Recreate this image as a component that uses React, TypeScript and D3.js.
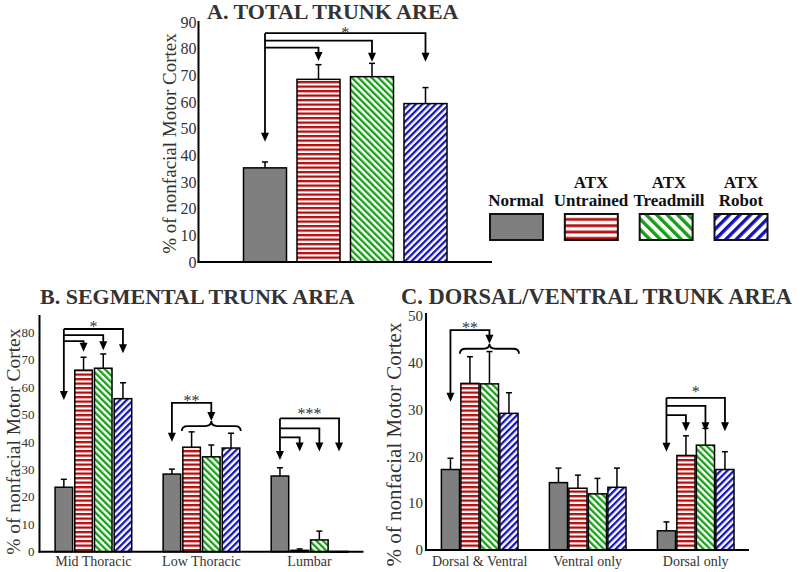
import React from "react";
import * as d3 from "d3";

// ---------- data ----------
const SERIES = ["Normal", "ATX Untrained", "ATX Treadmill", "ATX Robot"];
const LEGEND_LINE1 = ["", "ATX", "ATX", "ATX"];
const LEGEND_LINE2 = ["Normal", "Untrained", "Treadmill", "Robot"];

// A. Total trunk area
const TOTAL_MEAN = [35.3, 68.5, 69.5, 59.4];
const TOTAL_SEM = [2.2, 5.5, 5.0, 6.0];
const A_TICKS = [0, 10, 20, 30, 40, 50, 60, 70, 80, 90];

// B. Segmental trunk area
const SEG_CATS = ["Mid Thoracic", "Low Thoracic", "Lumbar"];
const SEG_NORMAL = [23.5, 28.3, 27.6];
const SEG_UNTRAINED = [66.2, 38.1, 0.5];
const SEG_TREADMILL = [66.9, 34.6, 4.3];
const SEG_ROBOT = [55.8, 37.8, 0.1];
const SEG_NORMAL_SEM = [2.9, 1.8, 3.0];
const SEG_UNTRAINED_SEM = [4.7, 5.6, 0.5];
const SEG_TREADMILL_SEM = [5.2, 4.3, 3.2];
const SEG_ROBOT_SEM = [5.8, 5.4, 0];
const B_TICKS = [0, 10, 20, 30, 40, 50, 60, 70, 80];

// C. Dorsal/ventral trunk area
const DV_CATS = ["Dorsal & Ventral", "Ventral only", "Dorsal only"];
const DV_NORMAL = [17.2, 14.4, 4.1];
const DV_UNTRAINED = [35.6, 13.2, 20.2];
const DV_TREADMILL = [35.5, 12.0, 22.4];
const DV_ROBOT = [29.2, 13.4, 17.2];
const DV_NORMAL_SEM = [2.4, 3.1, 1.9];
const DV_UNTRAINED_SEM = [5.7, 2.8, 4.2];
const DV_TREADMILL_SEM = [6.9, 3.3, 3.6];
const DV_ROBOT_SEM = [4.4, 4.1, 3.8];
const C_TICKS = [0, 10, 20, 30, 40, 50];

// significance annotations (value units)
const A_SIG = { stars: "*", starY: 87.7, fromTip: 45.1, levels: [80.4, 83.0, 85.8], tips: [75.4, 75.1, 75.1] };
const B_SIG_MID = { group: 0, stars: "*", starY: 83.4, fromTip: 55.3, levels: [76.8, 79.0, 81.2], tips: [72.9, 73.5, 72.4] };
const B_SIG_LOW = { group: 1, stars: "**", starY: 56.5, fromTip: 40.1, level: 54.3, braceY: 45.8 };
const B_SIG_LUMBAR = { group: 2, stars: "***", starY: 51.7, fromTip: 33.4, levels: [41.7, 45.0, 48.6], tips: [36.5, 36.5, 36.5] };
const C_SIG_DV = { group: 0, stars: "**", starY: 48.4, fromTip: 31.7, level: 47.0, braceY: 43.0 };
const C_SIG_DORSAL = { group: 2, stars: "*", starY: 34.8, fromTip: 21.0, levels: [28.8, 30.8, 32.5], tips: [25.4, 25.4, 25.4] };

// ---------- styles ----------
const FONT = "'Liberation Serif', 'Times New Roman', serif";
const TXT = "#333";
const FILLS = ["#7f7f7f", "url(#hRed)", "url(#dGreen)", "url(#dBlue)"];
const LEGEND_FILLS = ["#7f7f7f", "url(#hRedL)", "url(#dGreenL)", "url(#dBlueL)"];
const RED = "#b50d0d";
const GREEN = "#13a013";
const BLUE = "#1414b4";
const LW = 1.8;
const STAR_SIZE = 16;
const STAR_DY = 9.5;

function Arrow({ x, tip }: { x: number; tip: number }) {
  return <path d={`M${x - 4},${tip - 9}L${x + 4},${tip - 9}L${x},${tip}Z`} fill="#000" />;
}

function Bar({ x, w, y0, y1, ye, fill }: any) {
  const top = Math.min(y0, y1);
  const h = Math.abs(y0 - y1);
  const cx = x + w / 2;
  return (
    <g>
      {ye < y1 - 0.5 && (
        <g stroke="#000" strokeWidth={1.5}>
          <line x1={cx} x2={cx} y1={y1} y2={ye} />
          <line x1={cx - 3} x2={cx + 3} y1={ye} y2={ye} />
        </g>
      )}
      <rect x={x} y={top} width={w} height={Math.max(h, 0.8)} fill={fill} stroke="#000" strokeWidth={1.5} />
    </g>
  );
}

function Fan({ xFrom, xTos, y, sig }: any) {
  const topLevel = y(d3.max(sig.levels) as number);
  const mid = (xFrom + xTos[xTos.length - 1]) / 2;
  return (
    <g>
      <g stroke="#000" strokeWidth={LW} fill="none">
        <line x1={xFrom} x2={xFrom} y1={topLevel} y2={y(sig.fromTip) - 8} />
        {xTos.map((xt: number, i: number) => (
          <polyline key={i} points={`${xFrom},${y(sig.levels[i])} ${xt},${y(sig.levels[i])} ${xt},${y(sig.tips[i]) - 8}`} />
        ))}
      </g>
      <Arrow x={xFrom} tip={y(sig.fromTip)} />
      {xTos.map((xt: number, i: number) => (
        <Arrow key={i} x={xt} tip={y(sig.tips[i])} />
      ))}
      <text x={mid} y={y(sig.starY) + STAR_DY} textAnchor="middle" fontFamily={FONT} fontSize={STAR_SIZE} fill={TXT}>
        {sig.stars}
      </text>
    </g>
  );
}

function BraceSig({ xFrom, x1, x2, y, sig }: any) {
  const xm = (x1 + x2) / 2;
  const by = y(sig.braceY);
  const ly = y(sig.level);
  const brace = `M${x1},${by + 5} Q${x1},${by} ${x1 + 6},${by} L${xm - 6},${by} Q${xm},${by} ${xm},${by - 5} Q${xm},${by} ${xm + 6},${by} L${x2 - 6},${by} Q${x2},${by} ${x2},${by + 5}`;
  return (
    <g>
      <g stroke="#000" strokeWidth={LW} fill="none">
        <polyline points={`${xFrom},${y(sig.fromTip) - 8} ${xFrom},${ly} ${xm},${ly} ${xm},${by - 13}`} />
        <path d={brace} />
      </g>
      <Arrow x={xFrom} tip={y(sig.fromTip)} />
      <Arrow x={xm} tip={by - 5} />
      <text x={(xFrom + xm) / 2} y={y(sig.starY) + STAR_DY} textAnchor="middle" fontFamily={FONT} fontSize={STAR_SIZE} fill={TXT}>
        {sig.stars}
      </text>
    </g>
  );
}

function YAxis({ x, y, ticks, top, size, pad }: any) {
  return (
    <g>
      <line x1={x} x2={x} y1={top} y2={y(0) + 1} stroke="#000" strokeWidth={2} />
      {ticks.map((t: number) => (
        <text key={t} x={x - pad} y={y(t)} dy="0.35em" textAnchor="end" fontFamily={FONT} fontSize={size} fill={TXT}>
          {t}
        </text>
      ))}
    </g>
  );
}

function YLabel({ x, cy, size }: any) {
  return (
    <text transform={`translate(${x},${cy}) rotate(-90)`} textAnchor="middle" fontFamily={FONT} fontSize={size} fill={TXT}>
      % of nonfacial Motor Cortex
    </text>
  );
}

export default function App() {
  // ----- Panel A -----
  const yA = d3.scaleLinear().domain([0, 90]).range([262, 22]);
  const xA = d3.scaleBand<string>().domain(SERIES).range([238.25, 452.25]).paddingInner(0.196).paddingOuter(0.098);
  const cA = (s: string) => (xA(s) as number) + xA.bandwidth() / 2;

  // ----- Panel B -----
  const yB = d3.scaleLinear().domain([0, 80]).range([551.7, 332.3]);
  const gB = d3.scalePoint<string>().domain(SEG_CATS).range([93.4, 309.5]);
  const iB = d3.scaleBand<string>().domain(SERIES).range([-39.4, 39.4]).paddingInner(0.11).paddingOuter(0.055);
  const segVals = [SEG_NORMAL, SEG_UNTRAINED, SEG_TREADMILL, SEG_ROBOT];
  const segSem = [SEG_NORMAL_SEM, SEG_UNTRAINED_SEM, SEG_TREADMILL_SEM, SEG_ROBOT_SEM];
  const bx = (c: string, s: string) => (gB(c) as number) + (iB(s) as number);
  const bc = (c: string, s: string) => bx(c, s) + iB.bandwidth() / 2;

  // ----- Panel C -----
  const yC = d3.scaleLinear().domain([0, 50]).range([550, 316]);
  const gC = d3.scalePoint<string>().domain(DV_CATS).range([479.7, 695.7]);
  const iC = d3.scaleBand<string>().domain(SERIES).range([-39, 39]).paddingInner(0.07).paddingOuter(0.035);
  const dvVals = [DV_NORMAL, DV_UNTRAINED, DV_TREADMILL, DV_ROBOT];
  const dvSem = [DV_NORMAL_SEM, DV_UNTRAINED_SEM, DV_TREADMILL_SEM, DV_ROBOT_SEM];
  const cx = (c: string, s: string) => (gC(c) as number) + (iC(s) as number);
  const cc = (c: string, s: string) => cx(c, s) + iC.bandwidth() / 2;

  const legendX = d3.scalePoint<string>().domain(SERIES).range([516.5, 741]);
  const legendText = d3.scalePoint<string>().domain(SERIES).range([516, 741]);

  return (
    <svg width={800} height={572} style={{ position: "absolute", left: 0, top: 0, background: "#fff" }}>
      <defs>
        <pattern id="hRed" patternUnits="userSpaceOnUse" width={8} height={4.5}>
          <rect width={8} height={4.5} fill="#fff" />
          <rect width={8} height={2.3} fill={RED} />
        </pattern>
        <pattern id="dGreen" patternUnits="userSpaceOnUse" width={4.7} height={8} patternTransform="rotate(-45)">
          <rect width={4.7} height={8} fill="#fff" />
          <rect width={2.3} height={8} fill={GREEN} />
        </pattern>
        <pattern id="dBlue" patternUnits="userSpaceOnUse" width={4.7} height={8} patternTransform="rotate(45)">
          <rect width={4.7} height={8} fill="#fff" />
          <rect width={2.3} height={8} fill={BLUE} />
        </pattern>
        <pattern id="hRedL" patternUnits="userSpaceOnUse" width={8} height={6.3} y={215}>
          <rect width={8} height={6.3} fill="#fff" />
          <rect y={3} width={8} height={2.8} fill={RED} />
        </pattern>
        <pattern id="dGreenL" patternUnits="userSpaceOnUse" width={7.4} height={10} patternTransform="rotate(-45)">
          <rect width={7.4} height={10} fill="#fff" />
          <rect width={3.4} height={10} fill={GREEN} />
        </pattern>
        <pattern id="dBlueL" patternUnits="userSpaceOnUse" width={7.4} height={10} patternTransform="rotate(45)">
          <rect width={7.4} height={10} fill="#fff" />
          <rect width={3.4} height={10} fill={BLUE} />
        </pattern>
      </defs>
      <rect width={800} height={572} fill="#fff" />

      {/* ===== Panel A ===== */}
      <text x={207} y={18.5} fontFamily={FONT} fontWeight="bold" fontSize={22} fill={TXT}>
        A. TOTAL TRUNK AREA
      </text>
      {SERIES.map((s, i) => (
        <Bar
          key={s}
          x={xA(s)}
          w={xA.bandwidth()}
          y0={yA(0)}
          y1={yA(TOTAL_MEAN[i])}
          ye={yA(TOTAL_MEAN[i] + TOTAL_SEM[i])}
          fill={FILLS[i]}
        />
      ))}
      <YAxis x={198.5} y={yA} ticks={A_TICKS} top={21} size={16} pad={2} />
      <line x1={197.5} x2={492} y1={yA(0)} y2={yA(0)} stroke="#000" strokeWidth={2} />
      <YLabel x={176} cy={143.5} size={19} />
      <Fan xFrom={cA(SERIES[0])} xTos={SERIES.slice(1).map(cA)} y={yA} sig={A_SIG} />

      {/* ===== Legend ===== */}
      {SERIES.map((s, i) => (
        <g key={s}>
          <rect x={(legendX(s) as number) - 26.5} y={214} width={53} height={26} fill={LEGEND_FILLS[i]} stroke="#111" strokeWidth={2} />
          <text x={(legendText(s) as number) + (i === 2 ? 3 : 0)} y={206} textAnchor="middle" fontFamily={FONT} fontWeight="bold" fontSize={17} fill="#111">
            {LEGEND_LINE2[i]}
          </text>
          {LEGEND_LINE1[i] && (
            <text x={(legendText(s) as number) + (i === 2 ? 3 : 0)} y={187.5} textAnchor="middle" fontFamily={FONT} fontWeight="bold" fontSize={17} fill="#111">
              {LEGEND_LINE1[i]}
            </text>
          )}
        </g>
      ))}

      {/* ===== Panel B ===== */}
      <text x={40} y={303.5} fontFamily={FONT} fontWeight="bold" fontSize={22} fill={TXT}>
        B. SEGMENTAL TRUNK AREA
      </text>
      {SEG_CATS.map((c, ci) =>
        SERIES.map((s, si) => (
          <Bar
            key={c + s}
            x={bx(c, s)}
            w={iB.bandwidth()}
            y0={yB(0)}
            y1={yB(segVals[si][ci])}
            ye={yB(segVals[si][ci] + segSem[si][ci])}
            fill={FILLS[si]}
          />
        ))
      )}
      <YAxis x={39.5} y={yB} ticks={B_TICKS} top={315} size={13} pad={5} />
      <line x1={38.5} x2={363.5} y1={yB(0)} y2={yB(0)} stroke="#000" strokeWidth={2} />
      {SEG_CATS.map((c) => (
        <text key={c} x={gB(c)} y={566} textAnchor="middle" fontFamily={FONT} fontSize={14} fill={TXT}>
          {c}
        </text>
      ))}
      <YLabel x={20} cy={441.7} size={19.5} />
      <Fan
        xFrom={bc(SEG_CATS[B_SIG_MID.group], SERIES[0])}
        xTos={SERIES.slice(1).map((s) => bc(SEG_CATS[B_SIG_MID.group], s))}
        y={yB}
        sig={B_SIG_MID}
      />
      <BraceSig
        xFrom={bc(SEG_CATS[B_SIG_LOW.group], SERIES[0])}
        x1={bx(SEG_CATS[B_SIG_LOW.group], SERIES[1]) - 1}
        x2={bx(SEG_CATS[B_SIG_LOW.group], SERIES[3]) + iB.bandwidth() + 1}
        y={yB}
        sig={B_SIG_LOW}
      />
      <Fan
        xFrom={bc(SEG_CATS[B_SIG_LUMBAR.group], SERIES[0])}
        xTos={SERIES.slice(1).map((s) => bc(SEG_CATS[B_SIG_LUMBAR.group], s))}
        y={yB}
        sig={B_SIG_LUMBAR}
      />

      {/* ===== Panel C ===== */}
      <text x={401} y={303.5} fontFamily={FONT} fontWeight="bold" fontSize={22.5} fill={TXT}>
        C. DORSAL/VENTRAL TRUNK AREA
      </text>
      {DV_CATS.map((c, ci) =>
        SERIES.map((s, si) => (
          <Bar
            key={c + s}
            x={cx(c, s)}
            w={iC.bandwidth()}
            y0={yC(0)}
            y1={yC(dvVals[si][ci])}
            ye={yC(dvVals[si][ci] + dvSem[si][ci])}
            fill={FILLS[si]}
          />
        ))
      )}
      <YAxis x={426} y={yC} ticks={C_TICKS} top={313} size={15} pad={3} />
      <line x1={425} x2={749} y1={yC(0)} y2={yC(0)} stroke="#000" strokeWidth={2} />
      {DV_CATS.map((c) => (
        <text key={c} x={gC(c)} y={566} textAnchor="middle" fontFamily={FONT} fontSize={14} fill={TXT}>
          {c}
        </text>
      ))}
      <YLabel x={401} cy={444.5} size={21} />
      <BraceSig
        xFrom={cc(DV_CATS[C_SIG_DV.group], SERIES[0])}
        x1={cx(DV_CATS[C_SIG_DV.group], SERIES[1]) - 1}
        x2={cx(DV_CATS[C_SIG_DV.group], SERIES[3]) + iC.bandwidth() + 1}
        y={yC}
        sig={C_SIG_DV}
      />
      <Fan
        xFrom={cc(DV_CATS[C_SIG_DORSAL.group], SERIES[0])}
        xTos={SERIES.slice(1).map((s) => cc(DV_CATS[C_SIG_DORSAL.group], s))}
        y={yC}
        sig={C_SIG_DORSAL}
      />
    </svg>
  );
}
